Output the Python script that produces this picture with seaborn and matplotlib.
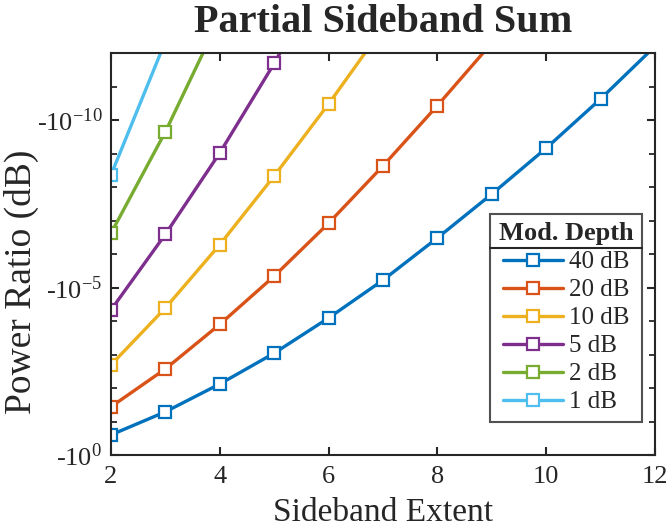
import numpy as np
import pandas as pd
import matplotlib
matplotlib.use("Agg")
import matplotlib.pyplot as plt
from matplotlib.lines import Line2D
from matplotlib.ticker import FixedLocator, FixedFormatter, NullFormatter
import seaborn as sns

# ==========================================
# Data (log10 of |power ratio|)
# ==========================================
depths = ["40 dB", "20 dB", "10 dB", "5 dB", "2 dB", "1 dB"]
colors = ["#0072BD", "#D95319", "#EDB120", "#7E2F8E", "#77AC30", "#4DBEEE"]

extent_40 = [2, 3, 4, 5, 6, 7, 8, 9, 10, 11, 12]
exp_40 = [-0.60, -1.29, -2.12, -3.04, -4.09, -5.22, -6.48, -7.79, -9.16, -10.63, -12.20]

extent_20 = [2, 3, 4, 5, 6, 7, 8, 9]
exp_20 = [-1.44, -2.57, -3.90, -5.34, -6.92, -8.63, -10.43, -12.30]

extent_10 = [2, 3, 4, 5, 6, 7]
exp_10 = [-2.69, -4.39, -6.28, -8.33, -10.48, -12.75]

extent_5 = [2, 3, 4, 5, 6]
exp_5 = [-4.33, -6.59, -9.02, -11.69, -14.60]

extent_2 = [2, 3, 4]
exp_2 = [-6.62, -9.65, -13.05]

extent_1 = [2, 3]
exp_1 = [-8.36, -12.35]

ytick_exps = [0, -5, -10]
ytick_labels = [r"-10$^{\mathregular{0}}$", r"-10$^{\mathregular{-5}}$", r"-10$^{\mathregular{-10}}$"]
xticks = [2, 4, 6, 8, 10, 12]

series = [
    (depths[0], extent_40, exp_40),
    (depths[1], extent_20, exp_20),
    (depths[2], extent_10, exp_10),
    (depths[3], extent_5, exp_5),
    (depths[4], extent_2, exp_2),
    (depths[5], extent_1, exp_1),
]
rows = []
for name, xs, es in series:
    for x, e in zip(xs, es):
        rows.append({"extent": x, "ratio": 10.0 ** e, "depth": name})
df = pd.DataFrame(rows)

# ==========================================
# Plot
# ==========================================
sns.set_style("ticks")
plt.rcParams["font.family"] = ["Liberation Serif", "DejaVu Serif"]
plt.rcParams["mathtext.fontset"] = "stix"

fig = plt.figure(figsize=(6.71, 5.28), dpi=100)
ax = fig.add_axes([111 / 671, 1 - 455 / 528, 544 / 671, 402 / 528])

sns.lineplot(
    data=df, x="extent", y="ratio", hue="depth", hue_order=depths,
    palette=colors, marker="s", markersize=8, markerfacecolor="white",
    markeredgecolor="auto", markeredgewidth=1.6, linewidth=2.4,
    sort=False, legend=False, ax=ax,
)

ax.set_yscale("log")
ax.set_xlim(2, 12)
ax.set_ylim(1, 1e-12)

ax.xaxis.set_major_locator(FixedLocator(xticks))
ax.yaxis.set_major_locator(FixedLocator([10.0 ** e for e in ytick_exps]))
ax.yaxis.set_major_formatter(FixedFormatter(ytick_labels))
ax.yaxis.set_minor_locator(FixedLocator([10.0 ** -k for k in range(13)]))
ax.yaxis.set_minor_formatter(NullFormatter())

for side in ax.spines.values():
    side.set_linewidth(1.5)
    side.set_color("#262626")
ax.tick_params(axis="both", which="major", direction="in", length=6, width=1.5,
               top=True, right=True, labelsize=19, colors="#262626")
ax.tick_params(axis="y", which="major", pad=6)
ax.tick_params(axis="x", which="major", pad=8)
ax.tick_params(axis="y", which="minor", direction="in", length=4, width=1.3,
               left=True, right=True)
ax.tick_params(axis="x", which="minor", bottom=False, top=False)

ax.set_xlabel("Sideband Extent", fontsize=24, color="#262626")
ax.set_ylabel("Power Ratio (dB)", fontsize=27, color="#262626")
ax.xaxis.set_label_coords(0.5, -0.105)
ax.yaxis.set_label_coords(-0.132, 0.43)
ax.set_title("Partial Sideband Sum", fontsize=29, fontweight="bold", pad=15)

leg = ax.legend(
    ax.get_lines()[: len(depths)], depths, title="Mod. Depth",
    loc="lower right", bbox_to_anchor=(0.976, 0.082), borderaxespad=0,
    fontsize=18, title_fontsize=19, frameon=True, fancybox=False,
    edgecolor="#262626", handlelength=2.4, handletextpad=0.25,
    labelspacing=0.22, borderpad=0.35,
)
leg.get_title().set_fontweight("bold")
leg.get_frame().set_linewidth(1.5)

# separator line under the legend title
fig.canvas.draw()
fb = leg.get_frame().get_window_extent()
tb = leg.get_title().get_window_extent()
y_sep = tb.y0 - 3
fig.add_artist(Line2D([fb.x0, fb.x1], [y_sep, y_sep], transform=None,
                      color="#262626", linewidth=1.5))

plt.savefig("out.png", dpi=100)
plt.close()
